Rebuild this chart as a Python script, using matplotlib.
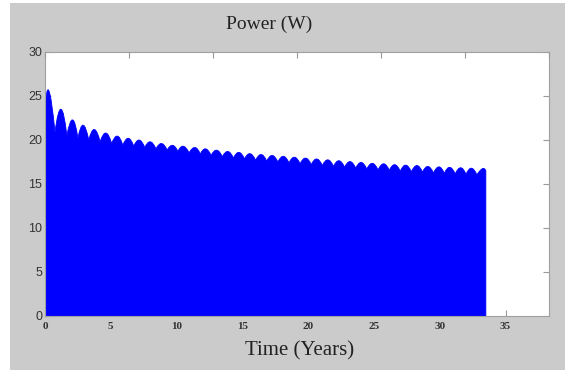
import numpy as np
import matplotlib
matplotlib.use("Agg")
import matplotlib.pyplot as plt
from matplotlib.path import Path
from matplotlib.patches import PathPatch, Rectangle

# Power envelope: one rounded lobe per orbit, sharp dips between lobes
peak_t = [0.30, 1.22, 2.10, 2.90, 3.75, 4.63, 5.50, 6.33, 7.16, 8.00,
          8.86, 9.70, 10.50, 11.40, 12.20, 13.05, 13.90, 14.74, 15.58, 16.43,
          17.27, 18.12, 18.96, 19.81, 20.65, 21.50, 22.34, 23.19, 24.03, 24.88,
          25.74, 26.58, 27.41, 28.27, 29.10, 29.94, 30.75, 31.59, 32.40, 33.24]
peak_p = [25.6, 23.5, 22.3, 21.7, 21.2, 20.8, 20.45, 20.2, 20.0, 19.8,
          19.6, 19.4, 19.3, 19.15, 19.0, 18.85, 18.7, 18.6, 18.45, 18.35,
          18.25, 18.15, 18.05, 17.95, 17.85, 17.75, 17.65, 17.55, 17.45, 17.35,
          17.3, 17.2, 17.15, 17.1, 17.0, 16.95, 16.9, 16.85, 16.8, 16.75]
# dips between consecutive lobes
trough_p = [20.9, 20.5, 20.2, 20.0, 19.8, 19.6, 19.4, 19.3, 19.15, 19.0,
            18.85, 18.7, 18.55, 18.4, 18.25, 18.1, 17.95, 17.85, 17.7, 17.6,
            17.5, 17.4, 17.3, 17.2, 17.1, 17.0, 16.9, 16.8, 16.7, 16.6,
            16.55, 16.45, 16.4, 16.35, 16.25, 16.2, 16.15, 16.1, 16.05]
start_t, start_p = 0.0, 23.5
end_t, end_p = 33.5, 16.5

x_ticks = [0, 5, 10, 15, 20, 25, 30, 35]
y_ticks = [0, 5, 10, 15, 20, 25, 30]
x_max = 38.3

# outline of the filled region, lobes as quadratic curves through each peak
trough_t = [(a + b) / 2 for a, b in zip(peak_t[:-1], peak_t[1:])]
knots_t = [start_t] + trough_t + [end_t]
knots_p = [start_p] + trough_p + [end_p]

verts = [(start_t, 0.0), (start_t, start_p)]
codes = [Path.MOVETO, Path.LINETO]
for i in range(len(peak_t)):
    x0, y0 = knots_t[i], knots_p[i]
    x1, y1 = knots_t[i + 1], knots_p[i + 1]
    cx = 2 * peak_t[i] - (x0 + x1) / 2
    cy = 2 * peak_p[i] - (y0 + y1) / 2
    verts += [(cx, cy), (x1, y1)]
    codes += [Path.CURVE3, Path.CURVE3]
verts += [(end_t, 0.0), (start_t, 0.0)]
codes += [Path.LINETO, Path.CLOSEPOLY]

W, H = 565, 370
fig = plt.figure(figsize=(W / 100, H / 100), dpi=100, facecolor="white")
fig.add_artist(Rectangle((10 / W, 0), 1, (H - 3) / H, transform=fig.transFigure,
                         facecolor="#cbcbcb", edgecolor="none", zorder=-10))

ax = fig.add_axes([45 / W, 1 - 316 / H, (549 - 45) / W, (316 - 52) / H])
ax.set_facecolor("white")
ax.add_patch(PathPatch(Path(verts, codes), facecolor="#0000ff",
                       edgecolor="#0000ff", linewidth=0.6, zorder=1))
ax.set_axisbelow(True)
ax.set_xlim(0, x_max)
ax.set_ylim(0, 30)

ax.set_xticks(x_ticks)
ax.set_xticklabels([str(v) for v in x_ticks], fontfamily="Liberation Serif",
                   fontweight="bold", fontsize=8, color="#333333")
ax.set_yticks(y_ticks)
ax.set_yticklabels([str(v) for v in y_ticks], fontfamily="Liberation Sans",
                   fontsize=9, color="#333333")
ax.tick_params(axis="x", direction="in", length=4, width=0.8, color="#999999",
               pad=4, top=False)
ax.tick_params(axis="y", direction="in", length=4, width=0.8, color="#999999",
               pad=2, right=True)
for s in ax.spines.values():
    s.set_color("#a0a0a0")
    s.set_linewidth(0.8)

top = ax.twiny()
top.set_xlim(0, x_max)
top.set_xticks(np.linspace(0, x_max, 7))
top.set_xticklabels([])
top.tick_params(axis="x", direction="in", length=4, width=0.8, color="#999999")
for s in top.spines.values():
    s.set_visible(False)

fig.text(269 / W, 1 - 24 / H, "Power (W)", ha="center", va="center",
         fontfamily="Liberation Serif", fontsize=14, color="#222222")
fig.text(300 / W, 1 - 351 / H, "Time (Years)", ha="center", va="center",
         fontfamily="Liberation Serif", fontsize=15, color="#222222")

fig.savefig("out.png", dpi=100, facecolor=fig.get_facecolor())
